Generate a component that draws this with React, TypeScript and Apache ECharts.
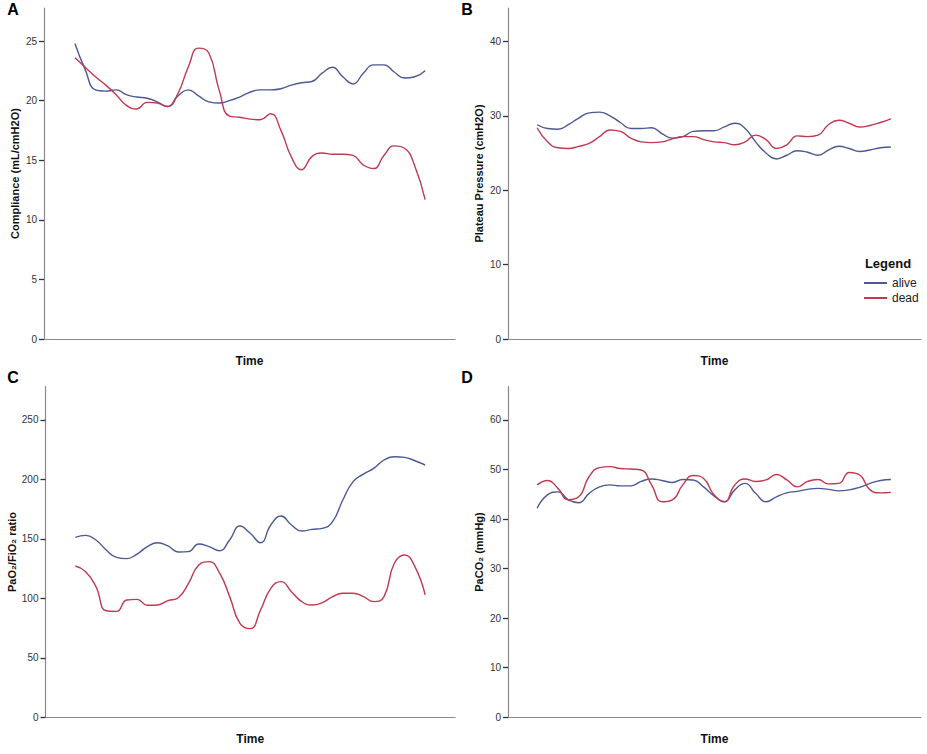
import React, { useEffect, useRef } from "react";
import * as echarts from "echarts";

const TIME_INDEX = [0, 1, 2, 3, 4, 5, 6, 7, 8, 9, 10, 11, 12, 13, 14, 15, 16, 17, 18, 19, 20, 21, 22, 23, 24, 25, 26, 27, 28, 29, 30, 31, 32, 33, 34];

// Panel A: Compliance (mL/cmH2O)
const COMPLIANCE_ALIVE = [24.8, 22.6, 20.9, 20.8, 20.9, 20.5, 20.3, 20.2, 19.9, 19.5, 20.4, 20.9, 20.4, 19.9, 19.8, 20.0, 20.3, 20.7, 20.9, 20.9, 21.0, 21.3, 21.5, 21.6, 22.3, 22.8, 22.0, 21.4, 22.3, 23.0, 23.0, 22.4, 21.9, 22.0, 22.5];
const COMPLIANCE_DEAD = [23.6, 22.8, 22.0, 21.3, 20.5, 19.6, 19.3, 19.85, 19.8, 19.5, 20.6, 22.8, 24.4, 24.0, 20.9, 18.7, 18.6, 18.45, 18.4, 18.9, 17.5, 15.3, 14.2, 15.3, 15.6, 15.5, 15.5, 15.4, 14.6, 14.3, 15.4, 16.2, 16.0, 14.5, 11.7];
const COMPLIANCE_TICKS = [0, 5, 10, 15, 20, 25];

// Panel B: Plateau Pressure (cmH2O)
const PLATEAU_ALIVE = [28.8, 28.3, 28.2, 28.8, 29.7, 30.4, 30.5, 30.0, 29.1, 28.3, 28.3, 28.4, 27.6, 27.0, 27.2, 27.9, 28.0, 28.0, 28.5, 29.0, 28.3, 26.5, 25.0, 24.2, 24.7, 25.3, 25.1, 24.7, 25.4, 25.9, 25.6, 25.2, 25.4, 25.7, 25.8];
const PLATEAU_DEAD = [28.4, 26.5, 25.7, 25.6, 25.9, 26.3, 27.2, 28.1, 27.9, 27.0, 26.5, 26.4, 26.5, 26.9, 27.2, 27.2, 26.8, 26.5, 26.4, 26.1, 26.5, 27.4, 26.8, 25.6, 26.1, 27.3, 27.2, 27.4, 28.8, 29.4, 29.0, 28.5, 28.7, 29.1, 29.6];
const PLATEAU_TICKS = [0, 10, 20, 30, 40];

// Panel C: PaO2/FiO2 ratio
const PF_ALIVE = [151.2, 152.9, 149.0, 140.6, 134.4, 133.3, 137.2, 143.4, 146.7, 144.0, 138.9, 139.2, 145.6, 143.4, 140.0, 149.0, 160.7, 154.6, 146.7, 161.6, 169.1, 161.6, 156.5, 157.9, 158.8, 164.4, 182.6, 198.0, 204.4, 209.2, 216.2, 219.0, 218.4, 215.6, 212.0];
const PF_DEAD = [127.1, 122.4, 109.8, 89.5, 89.0, 98.6, 99.1, 94.1, 94.4, 98.0, 100.5, 112.6, 128.0, 130.8, 121.5, 101.4, 79.0, 74.5, 90.2, 108.4, 114.0, 105.6, 97.2, 94.4, 96.3, 101.4, 104.2, 104.2, 101.4, 97.2, 101.4, 129.4, 136.4, 126.6, 102.8];
const PF_TICKS = [0, 50, 100, 150, 200, 250];

// Panel D: PaCO2 (mmHg)
const PACO2_ALIVE = [42.2, 44.9, 45.5, 43.9, 43.3, 45.2, 46.5, 46.9, 46.7, 46.7, 47.6, 48.1, 47.8, 47.4, 48.0, 47.9, 46.5, 44.7, 43.5, 45.9, 47.2, 45.2, 43.5, 44.5, 45.3, 45.6, 46.0, 46.2, 46.0, 45.7, 45.9, 46.4, 47.2, 47.8, 48.0];
const PACO2_DEAD = [46.9, 47.8, 46.2, 43.9, 44.5, 48.6, 50.4, 50.6, 50.2, 50.1, 49.9, 46.9, 43.5, 43.9, 46.9, 48.8, 48.2, 44.9, 43.5, 46.9, 48.1, 47.6, 47.9, 49.0, 47.9, 46.5, 47.6, 48.0, 47.1, 47.2, 49.4, 48.9, 45.9, 45.3, 45.4];
const PACO2_TICKS = [0, 10, 20, 30, 40, 50, 60];

const SERIES_NAMES = ["alive", "dead"];
const COLORS = ["#4b5995", "#c0394f"];
const FONT = "'Liberation Sans', Arial, sans-serif";

const toPairs = (vals: number[]) => vals.map((v, i) => [TIME_INDEX[i], v]);

export default function App() {
  const ref = useRef<HTMLDivElement>(null);

  useEffect(() => {
    document.body.style.margin = "0";
    if (!ref.current) return;
    const chart = echarts.init(ref.current, null, { renderer: "svg" });

    const panels = [
      { grid: { left: 44, top: 8, width: 411, height: 331 }, xMin: -3, xMax: 36.9, yMax: 27.77, ticks: COMPLIANCE_TICKS, name: "Compliance (mL/cmH2O)", alive: COMPLIANCE_ALIVE, dead: COMPLIANCE_DEAD },
      { grid: { left: 508, top: 8, width: 413, height: 331 }, xMin: -2.8, xMax: 36.9, yMax: 44.49, ticks: PLATEAU_TICKS, name: "Plateau Pressure (cmH2O)", alive: PLATEAU_ALIVE, dead: PLATEAU_DEAD },
      { grid: { left: 45.5, top: 386.7, width: 409.5, height: 330.6 }, xMin: -2.9, xMax: 36.9, yMax: 277.8, ticks: PF_TICKS, name: "PaO\u2082/FiO\u2082 ratio", alive: PF_ALIVE, dead: PF_DEAD },
      { grid: { left: 508, top: 386.7, width: 413, height: 330.6 }, xMin: -2.8, xMax: 36.9, yMax: 66.72, ticks: PACO2_TICKS, name: "PaCO\u2082 (mmHg)", alive: PACO2_ALIVE, dead: PACO2_DEAD },
    ];

    const grid = panels.map((p) => ({ ...p.grid, containLabel: false, outerBoundsMode: "none" }));
    const xAxis = panels.map((p, i) => ({
      type: "value",
      gridIndex: i,
      min: p.xMin,
      max: p.xMax,
      name: "Time",
      nameLocation: "middle",
      nameGap: 16,
      nameTextStyle: { fontFamily: FONT, fontWeight: "bold", fontSize: 12, color: "#111" },
      axisLine: { show: true, onZero: false, lineStyle: { color: "#8a8a8a", width: 1.2 } },
      axisTick: { show: false },
      axisLabel: { show: false },
      splitLine: { show: false },
    }));
    const yAxis = panels.map((p, i) => ({
      type: "value",
      gridIndex: i,
      min: 0,
      max: p.yMax,
      name: p.name,
      nameLocation: "middle",
      nameGap: 24,
      nameTextStyle: { fontFamily: FONT, fontWeight: "bold", fontSize: 11, color: "#111" },
      axisLine: { show: true, onZero: false, lineStyle: { color: "#8a8a8a", width: 1.2 } },
      axisTick: { show: true, inside: false, length: 5, customValues: p.ticks, lineStyle: { color: "#333", width: 1.3 } },
      axisLabel: { show: true, customValues: p.ticks, fontFamily: FONT, fontSize: 10, color: "#333", margin: 7 },
      splitLine: { show: false },
    }));
    const series: any[] = [];
    panels.forEach((p, i) => {
      [p.alive, p.dead].forEach((vals, k) => {
        series.push({
          type: "line",
          name: SERIES_NAMES[k],
          xAxisIndex: i,
          yAxisIndex: i,
          data: toPairs(vals),
          smooth: 0.5,
          showSymbol: false,
          symbol: "none",
          lineStyle: { color: COLORS[k], width: 1.4 },
          itemStyle: { color: COLORS[k] },
        });
      });
    });

    const letters = [
      { t: "A", x: 13, y: 9 },
      { t: "B", x: 467, y: 9 },
      { t: "C", x: 13, y: 377 },
      { t: "D", x: 467, y: 377 },
    ];

    chart.setOption({
      animation: false,
      backgroundColor: "#ffffff",
      textStyle: { fontFamily: FONT },
      grid,
      xAxis,
      yAxis,
      series,
      legend: {
        data: SERIES_NAMES,
        orient: "vertical",
        left: 859,
        top: 272,
        icon: "rect",
        itemWidth: 23,
        itemHeight: 2,
        itemGap: 3,
        textStyle: { fontFamily: FONT, fontSize: 12, color: "#222" },
      },
      graphic: [
        ...letters.map((l) => ({
          type: "text",
          x: l.x,
          y: l.y,
          style: { text: l.t, font: `bold 16px ${FONT}`, fill: "#000", align: "center", verticalAlign: "middle" },
        })),
        {
          type: "text",
          x: 888,
          y: 263,
          style: { text: "Legend", font: `bold 13px ${FONT}`, fill: "#111", align: "center", verticalAlign: "middle" },
        },
      ],
    });

    return () => chart.dispose();
  }, []);

  return <div ref={ref} style={{ width: 927, height: 754 }} />;
}
